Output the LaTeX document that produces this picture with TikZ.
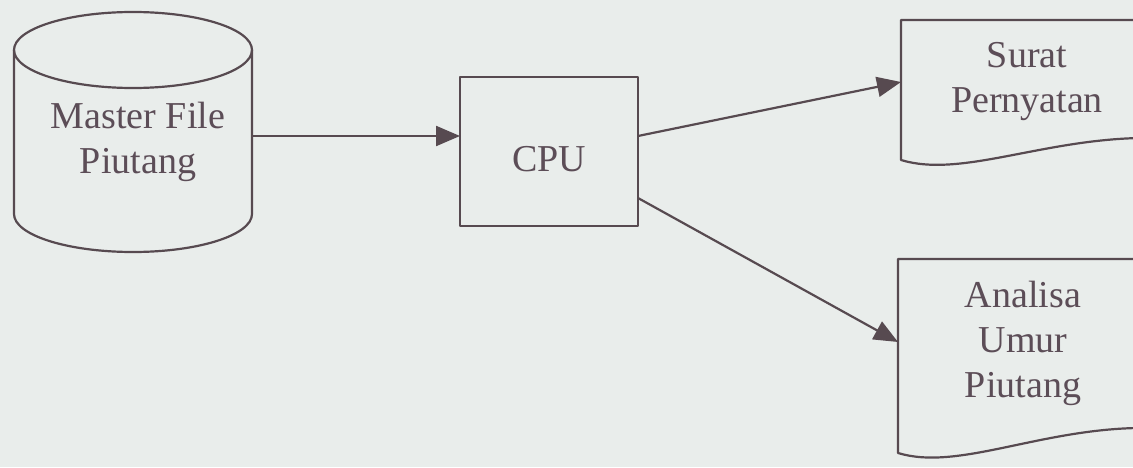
\documentclass[tikz,border=0pt]{standalone}
\usepackage{fontspec}
\setmainfont{Liberation Serif}
\usetikzlibrary{arrows.meta,calc}
\definecolor{paper}{HTML}{E9EDEB}
\definecolor{ink}{HTML}{574A50}
\definecolor{inktext}{HTML}{5C4D57}
\tikzset{
  every node/.style={font=\fontsize{38}{45}\selectfont, text=inktext},
  frame/.style={inner sep=0pt, outer sep=0pt},
  line/.style={draw=ink, line width=2.2pt, line join=round},
  procbox/.style={frame, line, fill=paper},
  txt/.style={align=center, inner sep=0pt},
  arrow/.style={line, -{Triangle[length=24pt,width=20pt]}, fill=ink},
}
\begin{document}
\begin{tikzpicture}[x=1pt,y=1pt]
\fill[paper] (0,0) rectangle (1133,467);
\useasboundingbox (0,0) rectangle (1133,467);
\clip (0,0) rectangle (1133,467);
% master file (disk)
\node[frame, minimum width=238pt, minimum height=240pt] (master) at (133,335) {};
\draw[line] ($(master.north)+(0,-38)$) ellipse [x radius=119, y radius=38];
\draw[line] ($(master.north west)+(0,-38)$) -- ($(master.south west)+(0,38)$)
  arc[start angle=180, end angle=360, x radius=119, y radius=38]
  -- ($(master.north east)+(0,-38)$);
\node[txt] (mastertxt) at (138,325) {Master File\\Piutang};
% cpu
\node[procbox, minimum width=178pt, minimum height=149pt] (cpu) at (549,315.5) {};
\node[txt] (cputxt) at ([yshift=-8pt]cpu.center) {CPU};
% documents
\node[frame, minimum width=259pt, minimum height=140pt] (surat) at (1030.5,377) {};
\draw[line] (surat.north east) -- (surat.north west) -- (surat.south west)
  .. controls +(59,-18) and +(-100,-2) .. ($(surat.south east)+(-20,22)$);
\node[txt] (surattxt) at (1027,385) {Surat\\Pernyatan};
\node[frame, minimum width=262pt, minimum height=194pt] (analisa) at (1029,111) {};
\draw[line] (analisa.north east) -- (analisa.north west) -- (analisa.south west)
  .. controls +(59,-18) and +(-100,-2) .. ($(analisa.south east)+(-23,25)$);
\node[txt] (analisatxt) at (1023,124) {Analisa\\Umur\\Piutang};
% flows
\draw[arrow] ([yshift=-4pt]master.east) -- ([yshift=-4pt]master.east -| cpu.west);
\draw[arrow] ([yshift=15.5pt]cpu.east) -- ([yshift=8pt]surat.west);
\draw[arrow] ([yshift=-46.5pt]cpu.east) -- ([yshift=14pt]analisa.west);
\end{tikzpicture}
\end{document}
